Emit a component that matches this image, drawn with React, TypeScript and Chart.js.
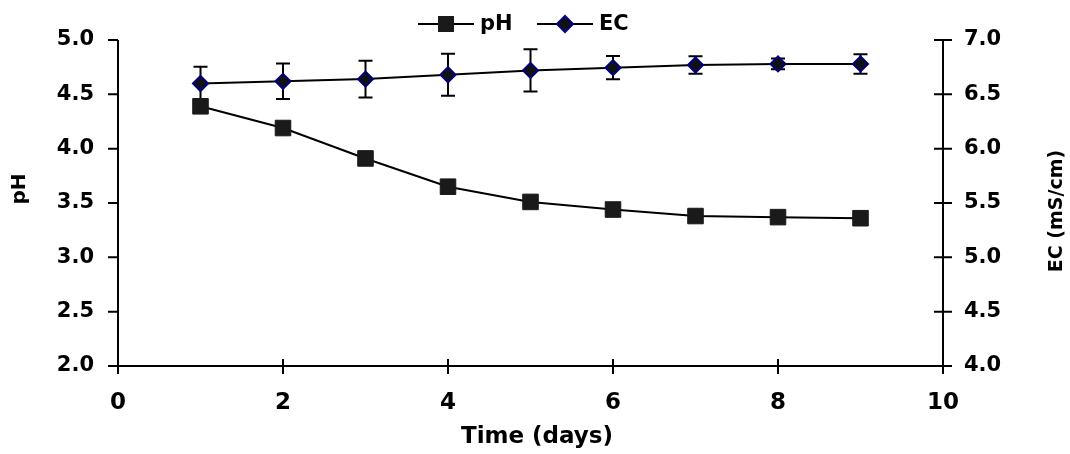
import React, { useEffect, useRef } from 'react';
import { Chart, registerables } from 'chart.js';

Chart.register(...registerables);

const days = [1, 2, 3, 4, 5, 6, 7, 8, 9];
const phValues = [4.39, 4.19, 3.91, 3.65, 3.51, 3.44, 3.38, 3.37, 3.36];
const ecValues = [6.6, 6.62, 6.64, 6.68, 6.72, 6.745, 6.77, 6.78, 6.78];
const ecErrors = [0.153, 0.164, 0.17, 0.193, 0.195, 0.107, 0.081, 0.05, 0.09];
const xTickValues = [0, 2, 4, 6, 8, 10];
const phTickValues = [2.0, 2.5, 3.0, 3.5, 4.0, 4.5, 5.0];
const ecTickValues = [4.0, 4.5, 5.0, 5.5, 6.0, 6.5, 7.0];
const seriesNames = ['pH', 'EC'];
const axisTitles = { x: 'Time (days)', left: 'pH', right: 'EC (mS/cm)' };

const FONT = "'DejaVu Sans', sans-serif";

const errorBarPlugin = {
  id: 'errorBars',
  beforeDatasetsDraw(chart: any) {
    const { ctx } = chart;
    const xs = chart.scales.x;
    const ys = chart.scales.y1;
    ctx.save();
    ctx.strokeStyle = '#000';
    ctx.lineWidth = 2;
    days.forEach((d, i) => {
      const x = xs.getPixelForValue(d);
      const top = ys.getPixelForValue(ecValues[i] + ecErrors[i]);
      const bot = ys.getPixelForValue(ecValues[i] - ecErrors[i]);
      ctx.beginPath();
      ctx.moveTo(x, top);
      ctx.lineTo(x, bot);
      ctx.moveTo(x - 7, top);
      ctx.lineTo(x + 7, top);
      ctx.moveTo(x - 7, bot);
      ctx.lineTo(x + 7, bot);
      ctx.stroke();
    });
    ctx.restore();
  },
};

const axesPlugin = {
  id: 'customAxes',
  beforeDatasetsDraw(chart: any) {
    const { ctx, chartArea } = chart;
    const { left, right, top, bottom } = chartArea;
    const xs = chart.scales.x;
    const yl = chart.scales.y;
    const yr = chart.scales.y1;
    ctx.save();
    ctx.strokeStyle = '#000';
    ctx.lineWidth = 2;
    ctx.beginPath();
    ctx.moveTo(left, top);
    ctx.lineTo(left, bottom);
    ctx.moveTo(right, top);
    ctx.lineTo(right, bottom);
    ctx.moveTo(left, bottom);
    ctx.lineTo(right, bottom);
    phTickValues.forEach((v) => {
      const y = yl.getPixelForValue(v);
      ctx.moveTo(left - 10, y);
      ctx.lineTo(left, y);
    });
    ecTickValues.forEach((v) => {
      const y = yr.getPixelForValue(v);
      ctx.moveTo(right - 9, y);
      ctx.lineTo(right + 9, y);
    });
    xTickValues.forEach((v) => {
      const x = xs.getPixelForValue(v);
      ctx.moveTo(x, bottom - 7);
      ctx.lineTo(x, bottom + 8);
    });
    ctx.stroke();
    ctx.restore();
  },
  afterDraw(chart: any) {
    const { ctx } = chart;
    ctx.save();
    ctx.fillStyle = '#000';
    ctx.textAlign = 'center';
    ctx.textBaseline = 'middle';
    ctx.font = `bold 20px ${FONT}`;
    ctx.translate(20, 189);
    ctx.rotate(-Math.PI / 2);
    ctx.fillText(axisTitles.left, 0, 0);
    ctx.restore();

    ctx.save();
    ctx.fillStyle = '#000';
    ctx.textAlign = 'center';
    ctx.textBaseline = 'middle';
    ctx.font = `bold 19px ${FONT}`;
    ctx.translate(1057, 211);
    ctx.rotate(-Math.PI / 2);
    ctx.fillText(axisTitles.right, 0, 0);
    ctx.restore();

    ctx.save();
    ctx.fillStyle = '#000';
    ctx.textAlign = 'center';
    ctx.textBaseline = 'middle';
    ctx.font = `bold 23px ${FONT}`;
    ctx.fillText(axisTitles.x, 537, 437);
    ctx.restore();
  },
};

const legendPlugin = {
  id: 'lineLegend',
  afterDraw(chart: any) {
    const { ctx } = chart;
    const y = 24;
    ctx.save();
    ctx.font = `bold 21px ${FONT}`;
    ctx.textBaseline = 'middle';
    ctx.textAlign = 'left';
    ctx.fillStyle = '#000';
    ctx.strokeStyle = '#000';
    ctx.lineWidth = 2;
    ctx.beginPath();
    ctx.moveTo(418, y);
    ctx.lineTo(474, y);
    ctx.stroke();
    ctx.fillStyle = '#1a1a1a';
    ctx.fillRect(446 - 8, y - 8, 16, 16);
    ctx.fillStyle = '#000';
    ctx.fillText(seriesNames[0], 480, y + 1);
    ctx.beginPath();
    ctx.moveTo(537, y);
    ctx.lineTo(593, y);
    ctx.stroke();
    ctx.beginPath();
    ctx.moveTo(565 - 8, y);
    ctx.lineTo(565, y - 8);
    ctx.lineTo(565 + 8, y);
    ctx.lineTo(565, y + 8);
    ctx.closePath();
    ctx.fillStyle = '#111';
    ctx.fill();
    ctx.strokeStyle = '#000080';
    ctx.lineWidth = 2;
    ctx.stroke();
    ctx.fillStyle = '#000';
    ctx.fillText(seriesNames[1], 599, y + 1);
    ctx.restore();
  },
};

export default function App() {
  const canvasRef = useRef<HTMLCanvasElement | null>(null);

  useEffect(() => {
    if (!canvasRef.current) return;
    const chart = new Chart(canvasRef.current, {
      type: 'line',
      data: {
        datasets: [
          {
            label: seriesNames[0],
            data: days.map((d, i) => ({ x: d, y: phValues[i] })),
            yAxisID: 'y',
            borderColor: '#000',
            borderWidth: 2,
            backgroundColor: '#1a1a1a',
            pointStyle: 'rect',
            pointRadius: 11,
            pointBorderWidth: 1,
            pointBorderColor: '#1a1a1a',
            pointBackgroundColor: '#1a1a1a',
            tension: 0,
          },
          {
            label: seriesNames[1],
            data: days.map((d, i) => ({ x: d, y: ecValues[i] })),
            yAxisID: 'y1',
            borderColor: '#000',
            borderWidth: 2,
            backgroundColor: '#111',
            pointStyle: 'rectRot',
            pointRadius: 7.5,
            pointBorderWidth: 2,
            pointBorderColor: '#000080',
            pointBackgroundColor: '#111',
            tension: 0,
          },
        ],
      },
      options: {
        animation: false,
        responsive: true,
        maintainAspectRatio: false,
        layout: { padding: { top: 40, left: 0, right: 0, bottom: 0 } },
        plugins: {
          legend: { display: false },
          tooltip: { enabled: false },
        },
        scales: {
          x: {
            type: 'linear',
            min: 0,
            max: 10,
            grid: { display: false, drawTicks: false },
            border: { display: false },
            afterBuildTicks: (scale: any) => {
              scale.ticks = xTickValues.map((v) => ({ value: v }));
            },
            afterFit: (scale: any) => {
              scale.height = 88;
            },
            ticks: {
              padding: 23,
              color: '#000',
              font: { family: FONT, size: 23, weight: 'bold' },
              callback: (v: any) => String(v),
            },
          },
          y: {
            type: 'linear',
            position: 'left',
            min: 2,
            max: 5,
            grid: { display: false, drawTicks: false },
            border: { display: false },
            afterBuildTicks: (scale: any) => {
              scale.ticks = phTickValues.map((v) => ({ value: v }));
            },
            afterFit: (scale: any) => {
              scale.width = 118;
            },
            ticks: {
              padding: 24,
              color: '#000',
              font: { family: FONT, size: 21, weight: 'bold' },
              callback: (v: any) => Number(v).toFixed(1),
            },
          },
          y1: {
            type: 'linear',
            position: 'right',
            min: 4,
            max: 7,
            grid: { display: false, drawTicks: false },
            border: { display: false },
            afterBuildTicks: (scale: any) => {
              scale.ticks = ecTickValues.map((v) => ({ value: v }));
            },
            afterFit: (scale: any) => {
              scale.width = 127;
            },
            ticks: {
              padding: 21,
              color: '#000',
              font: { family: FONT, size: 21, weight: 'bold' },
              callback: (v: any) => Number(v).toFixed(1),
            },
          },
        },
      },
      plugins: [axesPlugin, errorBarPlugin, legendPlugin],
    } as any);
    return () => chart.destroy();
  }, []);

  return (
    <div style={{ position: 'fixed', left: 0, top: 0, width: 1070, height: 454, background: '#fff' }}>
      <canvas ref={canvasRef} />
    </div>
  );
}
